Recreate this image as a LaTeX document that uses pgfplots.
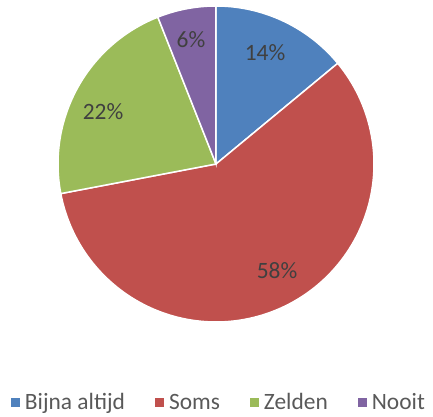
\documentclass[border=0pt]{standalone}
\usepackage{pgfplots}
\pgfplotsset{compat=1.18}
\usepackage{fontspec}
\setmainfont{Carlito}
\definecolor{cA}{HTML}{4F81BD}
\definecolor{cB}{HTML}{C0504D}
\definecolor{cC}{HTML}{9BBB59}
\definecolor{cD}{HTML}{8064A2}
\definecolor{lbl}{HTML}{404040}
\definecolor{leg}{HTML}{595959}
\begin{document}
\begin{tikzpicture}
\path[use as bounding box] (-216bp,-253bp) rectangle (217bp,164bp);
% values (percent)
\def\vA{14}\def\vB{58}\def\vC{22}\def\vD{6}
\pgfmathsetmacro\aA{90}
\pgfmathsetmacro\aB{\aA-3.6*\vA}
\pgfmathsetmacro\aC{\aB-3.6*\vB}
\pgfmathsetmacro\aD{\aC-3.6*\vC}
\pgfmathsetmacro\aE{\aD-3.6*\vD}
\begin{axis}[
  at={(0,0)}, anchor=origin,
  x=158bp, y=158bp,
  xmin=-1, xmax=1, ymin=-1, ymax=1,
  hide axis, clip=false,
  legend columns=4,
  legend image code/.code={\fill[#1,draw=none] (0bp,-4.5bp) rectangle (9bp,4.5bp);},
  legend style={at={(axis cs:0.028,-1.51)}, anchor=center, draw=none, fill=none,
    font=\fontsize{23.5}{28}\selectfont, text=leg,
    inner xsep=0pt, inner ysep=0pt,
    nodes={inner xsep=5bp},
    /tikz/every even column/.append style={column sep=25bp}},
]
\addplot[fill=cA, draw=white, line width=1.5bp, data cs=polar, domain=\aB:\aA, samples=60] ({x},{1}) -- (axis cs:0,0) -- cycle;
\addlegendentry{Bijna altijd}
\addplot[fill=cB, draw=white, line width=1.5bp, data cs=polar, domain=\aC:\aB, samples=120] ({x},{1}) -- (axis cs:0,0) -- cycle;
\addlegendentry{Soms}
\addplot[fill=cC, draw=white, line width=1.5bp, data cs=polar, domain=\aD:\aC, samples=60] ({x},{1}) -- (axis cs:0,0) -- cycle;
\addlegendentry{Zelden}
\addplot[fill=cD, draw=white, line width=1.5bp, data cs=polar, domain=\aE:\aD, samples=30] ({x},{1}) -- (axis cs:0,0) -- cycle;
\addlegendentry{Nooit}
\begin{scope}[font=\fontsize{23.5}{28}\selectfont, text=lbl]
\node at (axis cs:{49/158},{111.5/158}) {14\%};
\node at (axis cs:{61/158},{-106.5/158}) {58\%};
\node at (axis cs:{-113/158},{52.5/158}) {22\%};
\node at (axis cs:{-25/158},{124/158}) {6\%};
\end{scope}
\end{axis}
\end{tikzpicture}
\end{document}
